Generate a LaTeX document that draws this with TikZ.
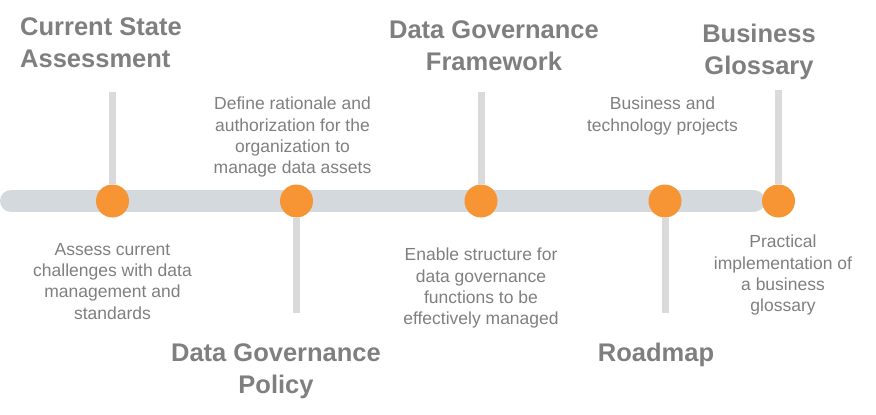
\documentclass[tikz,border=0pt]{standalone}
\usepackage{fontspec}
\setmainfont{Liberation Sans}

\definecolor{barregris}{RGB}{211,217,221}
\definecolor{tigegris}{RGB}{218,218,218}
\definecolor{orangejalon}{RGB}{247,148,51}
\definecolor{textegris}{RGB}{127,127,127}

\begin{document}
\begin{tikzpicture}[x=1pt, y=-1pt]
        % --- Définition des styles ---
        \tikzset{
            titre/.style={font=\bfseries\fontsize{25.5}{32}\selectfont, text=textegris, align=center, inner sep=0pt},
            desc/.style={font=\fontsize{17.5}{21.3}\selectfont, text=textegris, align=center, inner sep=0pt, anchor=north},
            barre_temps/.style={draw=barregris, line width=22pt, line cap=round},
            tige/.style={draw=tigegris, line width=7pt},
            jalon/.style={circle, fill=orangejalon, minimum size=33pt, inner sep=0pt}
        }

        % Cadre de l'image
        \useasboundingbox (0,0) rectangle (876,415);

        % =====================================================================
        % BARRE DU TEMPS
        % =====================================================================
        \coordinate (debut) at (11,201);
        \coordinate (fin) at (754,201);
        \draw[barre_temps] (debut) -- (fin);

        % Jalons
        \node[jalon] (j1) at (112.5,201) {};
        \node[jalon] (j2) at (296.5,201) {};
        \node[jalon] (j3) at (481,201) {};
        \node[jalon] (j4) at (665,201) {};
        \node[jalon] (j5) at (778.5,201) {};

        % Tiges (haut / bas)
        \coordinate (h1) at (112.5,92);
        \coordinate (b2) at (296.5,313);
        \coordinate (h3) at (481,92);
        \coordinate (b4) at (665,313);
        \coordinate (h5) at (778.5,90);
        \draw[tige] (j1) -- (h1);
        \draw[tige] (j2) -- (b2);
        \draw[tige] (j3) -- (h3);
        \draw[tige] (j4) -- (b4);
        \draw[tige] (j5) -- (h5);

        % =====================================================================
        % TITRES
        % =====================================================================
        \node[titre, align=left, anchor=north west] (titreEtat) at (20,17) {Current State\\Assessment};
        \node[titre, anchor=north] (titreCadre) at (494,20) {Data Governance\\Framework};
        \node[titre, anchor=north] (titreGlossaire) at (759,24) {Business\\Glossary};
        \node[titre, anchor=north] (titrePolitique) at (276,343) {Data Governance\\Policy};
        \node[titre, anchor=north] (titreFeuille) at (656,343) {Roadmap};

        % =====================================================================
        % DESCRIPTIONS
        % =====================================================================
        \node[desc] (descPolitique) at (292.5,97) {Define rationale and\\authorization for the\\organization to\\manage data assets};
        \node[desc] (descEtat) at (112.5,243) {Assess current\\challenges with data\\management and\\standards};
        \node[desc] (descCadre) at (481,248) {Enable structure for\\data governance\\functions to be\\effectively managed};
        \node[desc] (descFeuille) at (662.5,97) {Business and\\technology projects};
        \node[desc] (descGlossaire) at (783,235) {Practical\\implementation of\\a business\\glossary};

\end{tikzpicture}
\end{document}
